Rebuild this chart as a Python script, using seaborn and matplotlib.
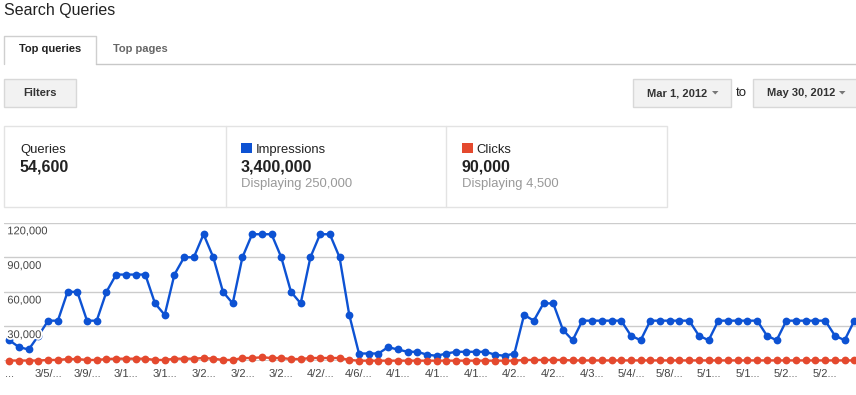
import pandas as pd
import matplotlib.pyplot as plt
import matplotlib.patheffects as pe
import seaborn as sns
from matplotlib.patches import Rectangle, Polygon

# daily values, Mar 1 onwards (the last few days run off the right edge)
impressions = [
    18000, 12000, 10000, 22000, 35000, 35000, 60000, 60000, 35000, 35000,
    60000, 75000, 75000, 75000, 75000, 50000, 40000, 75000, 90000, 90000,
    110000, 90000, 60000, 50000, 90000, 110000, 110000, 110000, 90000, 60000,
    50000, 90000, 110000, 110000, 90000, 40000, 6500, 6500, 6500, 12000,
    10000, 8000, 8000, 5500, 4500, 6500, 8000, 8000, 8000, 8000,
    5500, 4500, 6500, 40000, 35000, 50000, 50000, 27000, 18000, 35000,
    35000, 35000, 35000, 35000, 22000, 18000, 35000, 35000, 35000, 35000,
    35000, 22000, 18000, 35000, 35000, 35000, 35000, 35000, 22000, 18000,
    35000, 35000, 35000, 35000, 35000, 22000, 18000, 35000,
]
clicks = [
    400, 400, 400, 400, 900, 900, 1700, 1700, 900, 900,
    1700, 2000, 2000, 2000, 2000, 900, 900, 2000, 2000, 2000,
    2600, 2000, 900, 900, 2600, 2600, 3200, 2600, 2600, 1700,
    1700, 2600, 2600, 2600, 2600, 900, 300, 300, 300, 300,
    300, 300, 300, 300, 300, 300, 300, 300, 300, 300,
    300, 300, 300, 900, 900, 900, 900, 900, 500, 500,
    500, 500, 500, 500, 500, 500, 500, 500, 500, 500,
    500, 500, 500, 500, 500, 500, 500, 500, 500, 500,
    500, 500, 500, 500, 500, 500, 500, 500,
]
x_labels = ["...", "3/5/...", "3/9/...", "3/1...", "3/1...", "3/2...", "3/2...", "3/2...",
            "4/2/...", "4/6/...", "4/1...", "4/1...", "4/1...", "4/2...", "4/2...", "4/3...",
            "5/4/...", "5/8/...", "5/1...", "5/1...", "5/2...", "5/2..."]
y_values = [30000, 60000, 90000, 120000]
y_labels = ["30,000", "60,000", "90,000", "120,000"]

BLUE = "#0d52d3"
RED = "#e4492e"

df = pd.DataFrame({"day": range(len(impressions)), "Impressions": impressions, "Clicks": clicks})

sns.set_style("white")
plt.rcParams["font.family"] = ["Liberation Sans", "DejaVu Sans"]

W, H = 856, 395
fig = plt.figure(figsize=(W / 100, H / 100), dpi=100)

# page furniture drawn in pixel coordinates
ui = fig.add_axes([0, 0, 1, 1])
ui.set_xlim(0, W)
ui.set_ylim(H, 0)
ui.axis("off")

ui.text(4, 15.3, "Search Queries", fontsize=11.5, color="#222222", va="baseline")

# tabs
ui.plot([4, 4, 96, 96], [64, 36, 36, 64], color="#cfcfcf", lw=1)
ui.plot([96, W], [64, 64], color="#c8c8c8", lw=1)
ui.text(19, 52.5, "Top queries", fontsize=8, fontweight="bold", color="#222222", va="baseline")
ui.text(113, 52.5, "Top pages", fontsize=8, fontweight="bold", color="#666666", va="baseline")

# buttons
def button(x0, x1, label, arrow=False):
    ui.add_patch(Rectangle((x0, 78.5), x1 - x0, 28, facecolor="#f2f2f2", edgecolor="#d8d8d8", lw=1))
    if arrow:
        ui.text(x0 + 13.5, 96, label, fontsize=8, fontweight="bold", color="#333333", va="baseline")
        ui.add_patch(Polygon([(x1 - 19, 91), (x1 - 12.5, 91), (x1 - 15.75, 94.5)], closed=True,
                             facecolor="#777777", edgecolor="none"))
    else:
        ui.text((x0 + x1) / 2, 96, label, fontsize=8, fontweight="bold", color="#333333",
                va="baseline", ha="center")

button(4.5, 76, "Filters")
button(633.5, 731, "Mar 1, 2012", arrow=True)
button(753.5, 858, "May 30, 2012", arrow=True)
ui.text(736, 95.5, "to", fontsize=9.5, color="#222222", va="baseline")

# summary box
ui.add_patch(Rectangle((4.5, 125.5), 662.5, 81, facecolor="none", edgecolor="#e3e3e3", lw=1))
for xd in (225.7, 446):
    ui.plot([xd, xd], [125.5, 206.5], color="#e3e3e3", lw=1)

ui.text(20, 152.6, "Queries", fontsize=9.4, color="#222222", va="baseline")
ui.text(20, 171, "54,600", fontsize=11.5, fontweight="bold", color="#222222", va="baseline")

for x0, color, name, total, shown in [(241, BLUE, "Impressions", "3,400,000", "Displaying 250,000"),
                                      (462, RED, "Clicks", "90,000", "Displaying 4,500")]:
    ui.add_patch(Rectangle((x0, 142.7), 10.7, 10.7, facecolor=color, edgecolor="none"))
    ui.text(x0 + 14.5, 152.6, name, fontsize=9.4, color="#222222", va="baseline")
    ui.text(x0, 171, total, fontsize=11.5, fontweight="bold", color="#222222", va="baseline")
    ui.text(x0, 187.5, shown, fontsize=9.4, color="#999999", va="baseline")

# chart
ax = fig.add_axes([4 / W, 1 - 361 / H, (W - 4) / W, (361 - 222.7) / H])
ax.patch.set_alpha(0)

ax.axhline(0, color="#333333", lw=1, zorder=1)
sns.lineplot(data=df, x="day", y="Impressions", ax=ax, color=BLUE, marker="o", markersize=5.6,
             markeredgewidth=0, linewidth=1.7, clip_on=False, zorder=3)
sns.lineplot(data=df, x="day", y="Clicks", ax=ax, color=RED, marker="o", markersize=5.6,
             markeredgewidth=0, linewidth=1.7, clip_on=False, zorder=4)

spacing = 9.713
ax.set_xlim((4 - 9.3) / spacing, (W - 9.3) / spacing)
ax.set_ylim(0, 120000)
ax.set_yticks([0] + y_values)
ax.set_yticklabels([])
ax.yaxis.grid(True, color="#cccccc", lw=1)
ax.xaxis.grid(False)
ax.set_xticks(df["day"][::4], x_labels)
ax.tick_params(axis="x", length=0, pad=5.5, labelsize=8, labelcolor="#444444")
ax.tick_params(axis="y", length=0)
ax.set_xlabel("")
ax.set_ylabel("")
for s in ax.spines.values():
    s.set_visible(False)

for v, lab in zip(y_values, y_labels):
    ax.annotate(lab, xy=(0, v), xycoords=("axes fraction", "data"), xytext=(2.4, -6.2),
                textcoords="offset points", va="center", ha="left", fontsize=8, color="#444444",
                path_effects=[pe.withStroke(linewidth=2.5, foreground="white")], zorder=6)

plt.savefig("out.png", dpi=100)
